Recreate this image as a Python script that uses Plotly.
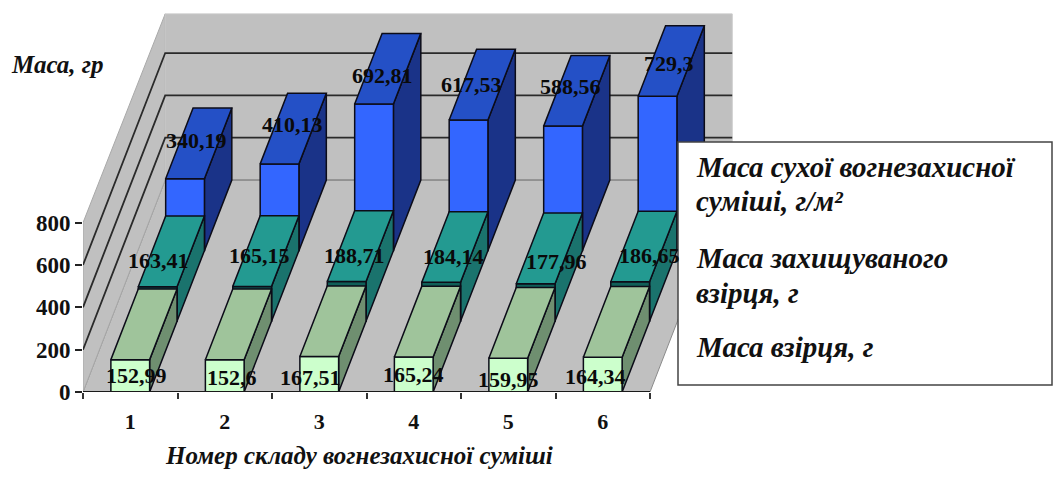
import plotly.graph_objects as go

categories = ["1", "2", "3", "4", "5", "6"]
sample_mass = [152.99, 152.6, 167.51, 165.24, 159.95, 164.34]
protected_mass = [163.41, 165.15, 188.71, 184.14, 177.96, 186.65]
dry_mix_mass = [340.19, 410.13, 692.81, 617.53, 588.56, 729.3]
value_labels_front = ["152,99", "152,6", "167,51", "165,24", "159,95", "164,34"]
value_labels_mid = ["163,41", "165,15", "188,71", "184,14", "177,96", "186,65"]
value_labels_back = ["340,19", "410,13", "692,81", "617,53", "588,56", "729,3"]
y_ticks = [0, 200, 400, 600, 800]

# Oblique projection: one depth row moves the point right and up, in axis units
PX_PER_CAT = 94.5
PX_PER_VAL = 0.2116
DEPTH_DX = 27.4 / PX_PER_CAT
DEPTH_DY = 70.67 / PX_PER_VAL
ROW_DEPTH = 3
BAR_HALF = 0.205

L, R, T, B = 83, 733, 10, 392
SERIF = "Liberation Serif"


def proj(cat, val, depth):
    return cat + depth * DEPTH_DX, val + depth * DEPTH_DY


def poly(points):
    xs, ys = [], []
    for c, v, d in points:
        x, y = proj(c, v, d)
        xs.append(x)
        ys.append(y)
    xs.append(xs[0])
    ys.append(ys[0])
    return xs, ys


def add_poly(fig, point_lists, fill, line="#0c0c18", width=1.5):
    xs, ys = [], []
    for pts in point_lists:
        a, b = poly(pts)
        xs += a + [None]
        ys += b + [None]
    fig.add_trace(go.Scatter(x=xs, y=ys, mode="lines", fill="toself", fillcolor=fill,
                             line=dict(color=line, width=width), hoverinfo="skip"))


def add_line(fig, pts, color, width):
    a, b = [], []
    for c, v, d in pts:
        x, y = proj(c, v, d)
        a.append(x)
        b.append(y)
    fig.add_trace(go.Scatter(x=a, y=b, mode="lines", line=dict(color=color, width=width),
                             hoverinfo="skip"))


fig = go.Figure()
x0, x1 = 0.5, 6.5
WALL = "#c0c0c0"
WALL_BACK_TOP = 785
# walls and floor
add_poly(fig, [[(x0, 0, 0), (x1, 0, 0), (x1, 0, ROW_DEPTH), (x0, 0, ROW_DEPTH)]], WALL, "#8a8a8a", 1)
add_poly(fig, [[(x0, 0, 0), (x0, 800, 0), (x0, WALL_BACK_TOP, ROW_DEPTH), (x0, 0, ROW_DEPTH)]], WALL, "#a8a8a8", 1)
add_poly(fig, [[(x0, 0, ROW_DEPTH), (x0, WALL_BACK_TOP, ROW_DEPTH), (x1, WALL_BACK_TOP, ROW_DEPTH), (x1, 0, ROW_DEPTH)]], WALL, "#c8c8c8", 1)
# gridlines
add_line(fig, [(x0, 0, ROW_DEPTH), (x1, 0, ROW_DEPTH)], "#858585", 1.6)
for t in y_ticks[1:-1]:
    add_line(fig, [(x0, t, 0), (x0, t, ROW_DEPTH), (x1, t, ROW_DEPTH)], "#2a2a2a", 1.8)

rows = [
    (2, dry_mix_mass, "#3366ff", "#2450c6", "#1a3388"),
    (1, protected_mass, "#0f5f58", "#239a91", "#1a736d"),
    (0, sample_mass, "#ccffcc", "#9fc49b", "#6f8f70"),
]
for depth, vals, front, top, side in rows:
    fronts, sides, tops = [], [], []
    for i, v in enumerate(vals):
        c = i + 1
        a, b = c - BAR_HALF, c + BAR_HALF
        d0, d1 = depth, depth + 1
        fronts.append([(a, 0, d0), (b, 0, d0), (b, v, d0), (a, v, d0)])
        sides.append([(b, 0, d0), (b, 0, d1), (b, v, d1), (b, v, d0)])
        tops.append([(a, v, d0), (b, v, d0), (b, v, d1), (a, v, d1)])
    add_poly(fig, sides, side)
    add_poly(fig, fronts, front)
    add_poly(fig, tops, top)

# front axis line
add_line(fig, [(x0, 0, 0), (x1, 0, 0)], "#1a1a1a", 2.2)

annotations = []
# label nudges in pixels relative to the mid-depth point of each bar top
back_shift = [(-2, 3), (-1, 4), (-5, -7), (-11, 0), (-6, 4), (-2, -2)]
mid_shift = [(-13, -9), (-6, -4), (-6, -9), (-1, -9), (7, -13), (6, -9)]
front_shift = [(6, 0), (7, -2), (-9, -3), (0, 0), (0, -4), (-7, -2)]
for depth, vals, labels, shifts, d_mid in [
    (2, dry_mix_mass, value_labels_back, back_shift, 2.5),
    (1, protected_mass, value_labels_mid, mid_shift, 1.5),
    (0, sample_mass, value_labels_front, front_shift, 0.0),
]:
    for i, (v, lab) in enumerate(zip(vals, labels)):
        val_at = v if depth else v / 2
        xp, yp = proj(i + 1, val_at, d_mid)
        annotations.append(dict(x=xp, y=yp, xref="x", yref="y", text="<b>" + lab + "</b>", showarrow=False,
                                xshift=shifts[i][0], yshift=shifts[i][1],
                                font=dict(family=SERIF, size=22, color="#0a0a0a")))


def px(x):
    return (x - L) / (R - L)


def py(y):
    return (B - y) / (B - T)


def note(text, x, y, size, anchor="left"):
    annotations.append(dict(x=px(x), y=py(y), xref="paper", yref="paper", text=text, showarrow=False,
                            xanchor=anchor, yanchor="middle",
                            font=dict(family=SERIF, size=size, color="#111111")))


LEG = 29
note("<b><i>Маса, гр</i></b>", 57, 65, 25, "center")
note("<b><i>Номер складу вогнезахисної суміші</i></b>", 359, 455, 25, "center")
note("<b><i>Маса сухої вогнезахисної</i></b>", 694, 167, LEG)
note("<b><i>суміші, г/м²</i></b>", 694, 201, LEG)
note("<b><i>Маса захищуваного</i></b>", 694, 258, LEG)
note("<b><i>взірця, г</i></b>", 694, 293, LEG)
note("<b><i>Маса взірця, г</i></b>", 694, 347, LEG)

fig.update_layout(
    width=1059, height=481, autosize=False,
    margin=dict(l=L, r=1059 - R, t=T, b=481 - B),
    paper_bgcolor="white", plot_bgcolor="white",
    showlegend=False,
    annotations=annotations,
    shapes=[dict(type="rect", xref="paper", yref="paper", x0=px(678), x1=px(1052), y0=py(385), y1=py(142),
                 line=dict(color="#444444", width=1.5), fillcolor="white", layer="above")],
    xaxis=dict(range=[0.5, 0.5 + (R - L) / PX_PER_CAT], showgrid=False, zeroline=False, showline=False,
               tickmode="array", tickvals=[1, 2, 3, 4, 5, 6], ticktext=categories, ticks="",
               ticklabelstandoff=14,
               tickfont=dict(family=SERIF, size=22, color="#111111", weight=700),
               minor=dict(tickmode="array", tickvals=[0.5, 1.5, 2.5, 3.5, 4.5, 5.5, 6.5],
                          ticks="outside", ticklen=6, tickcolor="#333333", tickwidth=1.5, showgrid=False)),
    yaxis=dict(range=[0, (B - T) / PX_PER_VAL], showgrid=False, zeroline=False, showline=False,
               tickmode="array", tickvals=y_ticks, ticks="outside", ticklen=7, tickwidth=1.5,
               tickcolor="#222222",
               tickfont=dict(family=SERIF, size=23, color="#111111", weight=700)),
)
fig.write_html("out.html", config={"displayModeBar": False},
               post_script="document.body.style.margin='0';")
